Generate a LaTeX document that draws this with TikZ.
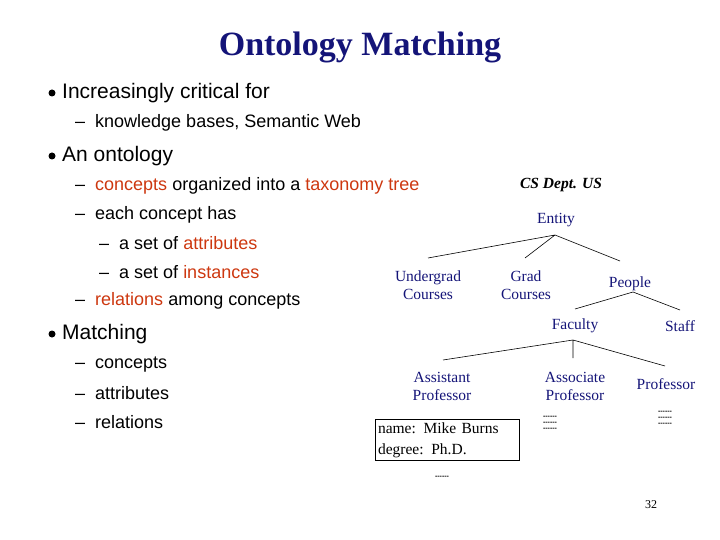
\documentclass[tikz,border=0pt]{standalone}
\usepackage{fontspec}
\setmainfont{Liberation Serif}
\newfontfamily\arialf{Liberation Sans}
\newcommand{\dsh}{\textendash\ \ }
\begin{document}
\begin{tikzpicture}[x=1pt,y=-1pt,
  nv/.style={text=navy,font=\fontsize{15.5}{18}\selectfont,align=center,inner sep=1pt},
  l1/.style={anchor=west,font=\arialf\fontsize{21}{24}\selectfont,inner sep=0pt},
  l2/.style={anchor=west,font=\arialf\fontsize{18}{20}\selectfont,inner sep=0pt},
  bul/.style={circle,fill=black,inner sep=0pt,minimum size=7pt},
  dd/.style={font=\arialf\fontsize{7}{6}\selectfont\bfseries,align=center,inner sep=0pt},
  ed/.style={line width=0.6pt}]
\definecolor{navy}{RGB}{20,20,120}
\definecolor{rd}{RGB}{205,55,15}
\useasboundingbox (0,0) rectangle (720,540);
\node[text=navy,font=\bfseries\fontsize{34}{38}\selectfont] (title) at (360,47) {Ontology Matching};
\node[bul] (b1) at (52,93) {}; \node[l1] (t1) at (62,93) {Increasingly critical for};
\node[l2] (t11) at (75,123) {\dsh knowledge bases, Semantic Web};
\node[bul] (b2) at (52,156) {}; \node[l1] (t2) at (62,156) {An ontology};
\node[l2] (t21) at (75,186) {\dsh \textcolor{rd}{concepts} organized into a \textcolor{rd}{taxonomy tree}};
\node[l2] (t22) at (75,215) {\dsh each concept has};
\node[l2] (t23) at (99,243) {\dsh a set of \textcolor{rd}{attributes}};
\node[l2] (t24) at (99,272) {\dsh a set of \textcolor{rd}{instances}};
\node[l2] (t25) at (75,301) {\dsh \textcolor{rd}{relations} among concepts};
\node[bul] (b3) at (52,334) {}; \node[l1] (t3) at (62,334) {Matching};
\node[l2] (t31) at (75,365) {\dsh concepts};
\node[l2] (t32) at (75,393) {\dsh attributes};
\node[l2] (t33) at (75,422) {\dsh relations};
% tree
\node[font=\bfseries\itshape\fontsize{15.5}{17}\selectfont] (cs) at (561,185) {CS Dept. US};
\node[nv] (ent) at (556,220) {Entity};
\node[nv] (ug) at (428,285) {Undergrad\\Courses};
\node[nv] (gr) at (526,285) {Grad\\Courses};
\node[nv] (pe) at (630,284) {People};
\node[nv] (fa) at (575,326) {Faculty};
\node[nv] (st) at (680,326) {Staff};
\node[nv] (as) at (442,386) {Assistant\\Professor};
\node[nv] (ac) at (575,386) {Associate\\Professor};
\node[nv] (pr) at (666,384) {Professor};
\coordinate (e0) at (555,235);
\draw[ed] (e0) -- (428,258) (e0) -- (525,258) (e0) -- (620,261);
\coordinate (p0) at (633,292);
\draw[ed] (p0) -- (575,309) (p0) -- (680,310);
\coordinate (f0) at (573,340);
\draw[ed] (f0) -- (443,360) (f0) -- (573,358) (f0) -- (665,366);
\node[draw,line width=0.6pt,align=left,font=\fontsize{15.5}{21}\selectfont,inner sep=3pt,text width=138pt] (box) at (447,440) {name: Mike Burns\\degree: Ph.D.};
\node[dd] (d0) at (442,477) {-{}-{}-{}-{}-{}-};
\node[dd] (d1) at (550,423) {-{}-{}-{}-{}-{}-\\-{}-{}-{}-{}-{}-\\-{}-{}-{}-{}-{}-};
\node[dd] (d2) at (665,418) {-{}-{}-{}-{}-{}-\\-{}-{}-{}-{}-{}-\\-{}-{}-{}-{}-{}-};
\node[font=\fontsize{12}{14}\selectfont] (pg) at (651,505) {32};
\end{tikzpicture}
\end{document}
